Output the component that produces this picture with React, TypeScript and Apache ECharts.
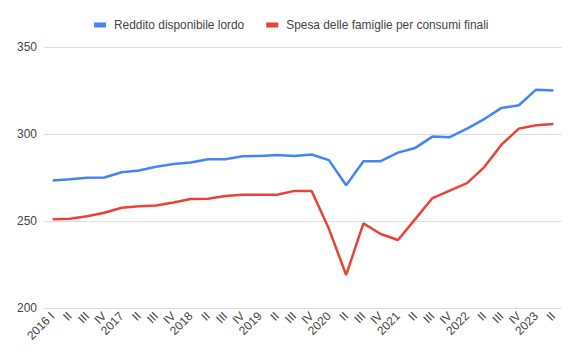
import React, { useEffect, useRef } from "react";
import * as echarts from "echarts";

const categories: string[] = [
  "2016 I", "II", "III", "IV",
  "2017", "II", "III", "IV",
  "2018", "II", "III", "IV",
  "2019", "II", "III", "IV",
  "2020", "II", "III", "IV",
  "2021", "II", "III", "IV",
  "2022", "II", "III", "IV",
  "2023", "II",
];

const redditoLordo: number[] = [
  273.3, 274, 274.8, 275, 278, 279, 281.2, 282.7,
  283.6, 285.5, 285.5, 287.2, 287.4, 288, 287.4, 288.2,
  285, 270.5, 284.3, 284.4, 289.3, 292, 298.5, 298.2,
  303.1, 308.6, 315, 316.5, 325.5, 325,
];

const spesaFamiglie: number[] = [
  251, 251.3, 252.7, 254.7, 257.6, 258.5, 258.9, 260.6,
  262.6, 262.8, 264.4, 265.1, 265.1, 265.1, 267.3, 267.3,
  245.5, 219, 248.6, 242.5, 239.1, 251.1, 263.2, 267.5,
  271.8, 281, 293.9, 303.1, 305, 305.7,
];

const seriesNames: string[] = [
  "Reddito disponibile lordo",
  "Spesa delle famiglie per consumi finali",
];

const FONT = "'Liberation Sans', Arial, sans-serif";

export default function App() {
  const ref = useRef<HTMLDivElement>(null);
  useEffect(() => {
    if (!ref.current) return;
    document.body.style.margin = "0";
    const chart = echarts.init(ref.current, null, { renderer: "svg" });
    chart.setOption({
      animation: false,
      textStyle: { fontFamily: FONT },
      legend: {
        top: 14,
        left: 89,
        itemWidth: 12,
        itemHeight: 5,
        itemGap: 22,
        icon: "rect",
        textStyle: {
          fontSize: 11.9,
          color: "#444",
          fontFamily: FONT,
          padding: [0, 0, 0, 3],
        },
        data: seriesNames,
      },
      grid: { left: 44, right: 18, top: 47, bottom: 51 },
      xAxis: {
        type: "category",
        data: categories,
        boundaryGap: true,
        axisLine: { show: false },
        axisTick: { show: false },
        axisLabel: {
          interval: 0,
          rotate: 45,
          fontSize: 12,
          color: "#444",
          fontFamily: FONT,
          margin: 6,
        },
      },
      yAxis: {
        type: "value",
        min: 200,
        max: 350,
        interval: 50,
        axisLine: { show: false },
        axisTick: { show: false },
        axisLabel: { fontSize: 12, color: "#444", fontFamily: FONT, margin: 7 },
        splitLine: { lineStyle: { color: "#dedede", width: 1 } },
      },
      series: [
        {
          name: seriesNames[0],
          type: "line",
          data: redditoLordo,
          symbol: "none",
          lineStyle: { color: "#4285F4", width: 2.5 },
          itemStyle: { color: "#4285F4" },
        },
        {
          name: seriesNames[1],
          type: "line",
          data: spesaFamiglie,
          symbol: "none",
          lineStyle: { color: "#EA4335", width: 2.5 },
          itemStyle: { color: "#EA4335" },
        },
      ],
    });
    return () => chart.dispose();
  }, []);
  return (
    <div
      ref={ref}
      style={{ position: "absolute", left: 0, top: 0, width: 580, height: 359 }}
    />
  );
}
